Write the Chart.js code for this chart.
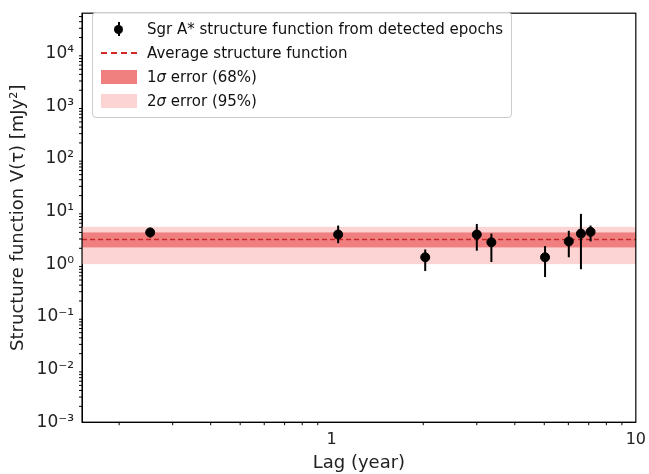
<!DOCTYPE html>
<html><head><meta charset="utf-8">
<script src="https://cdn.jsdelivr.net/npm/chart.js@4.4.0/dist/chart.umd.min.js"></script>
<style>
body{margin:0;background:#fff;font-family:"DejaVu Sans",sans-serif}
#wrap{position:relative;width:649px;height:474px}
#legend{position:absolute;left:92px;top:12px;border:1px solid #ccc;border-radius:4px;background:rgba(255,255,255,.9);padding:4px 8px;font-size:15px;line-height:24px;color:#111}
.row{display:flex;align-items:center}
.sw{width:36px;margin-right:10px;display:inline-block;position:relative;height:14px}
</style></head><body>
<div id="wrap"><canvas id="c" width="649" height="474"></canvas>
<div id="legend">
<div class="row"><span class="sw"><span style="position:absolute;left:17px;top:0;width:2px;height:14px;background:#000"></span><span style="position:absolute;left:13px;top:3px;width:9px;height:9px;border-radius:50%;background:#000"></span></span>Sgr A* structure function from detected epochs</div>
<div class="row"><span class="sw" style="border-top:2px dashed #d62728;height:0;margin-top:0"></span>Average structure function</div>
<div class="row"><span class="sw" style="background:#f08080"></span>1 <i>σ</i>&nbsp;error (68%)</div>
<div class="row"><span class="sw" style="background:#fcd4d4"></span>2 <i>σ</i>&nbsp;error (95%)</div>
</div></div>
<script>
const lags = [0.253, 1.05, 2.03, 3.0, 3.35, 5.03, 6.02, 6.6, 7.1];
const values = [4.0, 3.65, 1.35, 3.65, 2.6, 1.35, 2.7, 3.8, 4.1];
const errHigh = [4.9, 5.4, 1.9, 5.8, 3.8, 2.2, 4.3, 9.0, 5.4];
const errLow = [3.2, 2.5, 0.74, 1.8, 1.1, 0.57, 1.35, 0.8, 2.7];
const average = 2.95;
const sigma1 = [2.08, 4.0];
const sigma2 = [1.0, 5.1];
const xRange = [0.151, 10];
const yRange = [0.001, 58000];
const sup = {"-":"⁻","0":"⁰","1":"¹","2":"²","3":"³","4":"⁴"};

const bands = {
  id: 'bands',
  beforeDatasetsDraw(ch) {
    const {ctx, chartArea: a, scales: {y}} = ch;
    ctx.save();
    ctx.fillStyle = '#fcd4d4';
    ctx.fillRect(a.left, y.getPixelForValue(sigma2[1]), a.width, y.getPixelForValue(sigma2[0]) - y.getPixelForValue(sigma2[1]));
    ctx.fillStyle = '#f08080';
    ctx.fillRect(a.left, y.getPixelForValue(sigma1[1]), a.width, y.getPixelForValue(sigma1[0]) - y.getPixelForValue(sigma1[1]));
    ctx.strokeStyle = '#c62828'; ctx.lineWidth = 1.5; ctx.setLineDash([5, 3]);
    const ay = y.getPixelForValue(average);
    ctx.beginPath(); ctx.moveTo(a.left, ay); ctx.lineTo(a.right, ay); ctx.stroke();
    ctx.setLineDash([]);
    ctx.strokeStyle = '#000'; ctx.lineWidth = 2;
    const x = ch.scales.x;
    lags.forEach((l, i) => {
      const px = x.getPixelForValue(l);
      ctx.beginPath(); ctx.moveTo(px, y.getPixelForValue(errLow[i])); ctx.lineTo(px, y.getPixelForValue(errHigh[i])); ctx.stroke();
    });
    ctx.restore();
  },
  afterDraw(ch) {
    const {ctx, chartArea: a, scales: {x, y}} = ch;
    ctx.save(); ctx.strokeStyle = '#000'; ctx.lineWidth = 1;
    for (let e = -1; e < 1; e++) for (let m = 2; m < 10; m++) {
      const v = m * Math.pow(10, e);
      if (v < xRange[0] || v > xRange[1]) continue;
      const px = x.getPixelForValue(v);
      ctx.beginPath(); ctx.moveTo(px, a.bottom); ctx.lineTo(px, a.bottom + 3); ctx.stroke();
    }
    for (let e = -3; e < 5; e++) for (let m = 2; m < 10; m++) {
      const py = y.getPixelForValue(m * Math.pow(10, e));
      if (py < a.top) continue;
      ctx.beginPath(); ctx.moveTo(a.left, py); ctx.lineTo(a.left - 3, py); ctx.stroke();
    }
    ctx.lineWidth = 1.2; ctx.strokeRect(a.left, a.top, a.width, a.height);
    ctx.restore();
  }
};

new Chart(document.getElementById('c'), {
  type: 'scatter',
  data: { datasets: [{ data: lags.map((l, i) => ({x: l, y: values[i]})), backgroundColor: '#000', borderColor: '#000', pointRadius: 4.5 }] },
  options: {
    responsive: false, animation: false,
    layout: { padding: { right: 12, top: 4, left: 4 } },
    plugins: { legend: { display: false }, tooltip: { enabled: false } },
    scales: {
      x: {
        type: 'logarithmic', min: xRange[0], max: xRange[1],
        grid: { display: false, drawTicks: true, tickLength: 5, color: '#000' },
        border: { color: '#000' },
        afterBuildTicks: s => { s.ticks = [{value: 1}, {value: 10}]; },
        ticks: { color: '#222', font: { size: 16, family: 'DejaVu Sans' }, callback: v => String(v) },
        title: { display: true, text: 'Lag (year)', color: '#222', font: { size: 18, family: 'DejaVu Sans' }, padding: 0 }
      },
      y: {
        type: 'logarithmic', min: yRange[0], max: yRange[1],
        grid: { display: false, drawTicks: true, tickLength: 5, color: '#000' },
        border: { color: '#000' },
        afterBuildTicks: s => { s.ticks = [-3, -2, -1, 0, 1, 2, 3, 4].map(e => ({value: Math.pow(10, e)})); },
        ticks: { color: '#222', font: { size: 17, family: 'DejaVu Sans' },
          callback: v => '10' + String(Math.round(Math.log10(v))).split('').map(c => sup[c]).join('') },
        title: { display: true, text: 'Structure function V(τ) [mJy²]', color: '#222', font: { size: 18, family: 'DejaVu Sans' }, padding: 4 }
      }
    }
  },
  plugins: [bands]
});
</script></body></html>
